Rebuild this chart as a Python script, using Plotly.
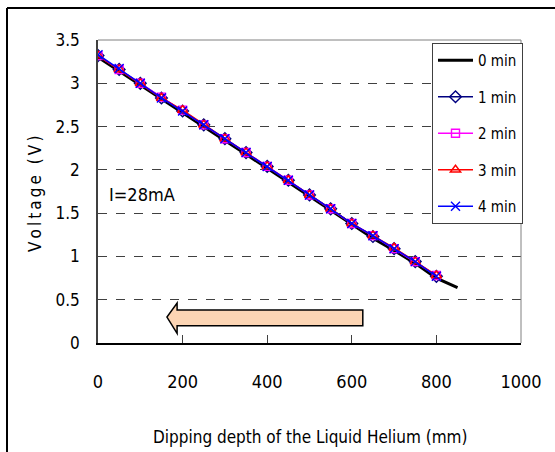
import plotly.graph_objects as go

# Dipping depth (mm) and measured voltage (V) at I = 28 mA
depth = [0, 50, 100, 150, 200, 250, 300, 350, 400, 450, 500, 550, 600, 650, 700, 750, 800]
depth_0min = depth + [850]

v_0min = [3.30, 3.14, 2.98, 2.81, 2.66, 2.50, 2.34, 2.18, 2.02, 1.86, 1.69, 1.53, 1.37, 1.21, 1.07, 0.92, 0.75, 0.64]
v_1min = [3.32, 3.16, 3.00, 2.83, 2.68, 2.52, 2.36, 2.20, 2.04, 1.88, 1.71, 1.55, 1.38, 1.23, 1.09, 0.94, 0.77]
v_2min = [3.32, 3.16, 3.00, 2.84, 2.69, 2.52, 2.36, 2.20, 2.04, 1.88, 1.71, 1.55, 1.38, 1.24, 1.09, 0.94, 0.78]
v_3min = [3.32, 3.16, 3.00, 2.83, 2.69, 2.52, 2.36, 2.20, 2.04, 1.88, 1.71, 1.55, 1.38, 1.24, 1.10, 0.94, 0.78]
v_4min = [3.33, 3.17, 3.00, 2.83, 2.68, 2.52, 2.36, 2.20, 2.04, 1.88, 1.71, 1.55, 1.38, 1.24, 1.09, 0.94, 0.77]

series_names = ["0 min", "1 min", "2 min", "3 min", "4 min"]

x_ticks = [0, 200, 400, 600, 800, 1000]
y_ticks = [0, 0.5, 1, 1.5, 2, 2.5, 3, 3.5]
y_tick_text = ["0", "0.5", "1", "1.5", "2", "2.5", "3", "3.5"]

# Direction arrow (data units)
arrow_tail_x, arrow_neck_x, arrow_tip_x = 626, 187, 163
arrow_body_top, arrow_body_bottom = 0.381, 0.200
arrow_head_top, arrow_head_bottom, arrow_tip_y = 0.462, 0.112, 0.30

FAMILY = "DejaVu Sans Condensed"
THIN = "\u2009"


def cfont(size):
    return dict(family=FAMILY, size=size, color="black")


fig = go.Figure()

fig.add_trace(go.Scatter(
    x=depth_0min, y=v_0min, name=series_names[0], mode="lines",
    line=dict(color="black", width=3), legendgroup="g0"))

styles = [
    (v_1min, "#000080", "diamond-open", 9),
    (v_2min, "#FF00FF", "square-open", 8),
    (v_3min, "#FF0000", "triangle-up-open", 9),
    (v_4min, "#0000FF", "x-thin-open", 9),
]
for i, (vals, col, sym, size) in enumerate(styles, start=1):
    fig.add_trace(go.Scatter(
        x=depth, y=vals, name=series_names[i], mode="lines+markers",
        line=dict(color=col, width=1.5),
        marker=dict(symbol=sym, size=size, color=col,
                    line=dict(color=col, width=1.4)),
        legendgroup=f"g{i}"))

arrow_path = (
    f"M {arrow_tail_x},{arrow_body_top} L {arrow_neck_x},{arrow_body_top} "
    f"L {arrow_neck_x},{arrow_head_top} L {arrow_tip_x},{arrow_tip_y} "
    f"L {arrow_neck_x},{arrow_head_bottom} L {arrow_neck_x},{arrow_body_bottom} "
    f"L {arrow_tail_x},{arrow_body_bottom} Z"
)

W, H = 555, 452
ml, mr, mt, mb = 98, 34, 40, 109
pw, ph = W - ml - mr, H - mt - mb


def px_x(p):
    return (p - ml) / pw


def px_y(p):
    return (H - mb - p) / ph


shapes = [
    dict(type="path", path=arrow_path, xref="x", yref="y",
         fillcolor="#FCD5B4", line=dict(color="black", width=1.5), layer="above"),
    # plot frame: grey top and right edges
    dict(type="line", xref="x domain", yref="y domain", x0=0, x1=1, y0=1, y1=1,
         line=dict(color="#808080", width=1)),
    dict(type="line", xref="x domain", yref="y domain", x0=1, x1=1, y0=0, y1=1,
         line=dict(color="#808080", width=1)),
    # outer frame (top and left)
    dict(type="line", xref="paper", yref="paper", x0=px_x(7), x1=px_x(W + 5),
         y0=px_y(8), y1=px_y(8), line=dict(color="black", width=2)),
    dict(type="line", xref="paper", yref="paper", x0=px_x(7), x1=px_x(7),
         y0=px_y(8), y1=px_y(H + 5), line=dict(color="black", width=2)),
]

y_title = THIN.join("Voltage") + THIN + " " + THIN + THIN.join("(V)")

annotations = [
    dict(text="I=28mA", x=22, y=1.71, xref="x", yref="y", xanchor="left",
         yanchor="middle", showarrow=False, font=cfont(18)),
    dict(text="Dipping depth of the Liquid Helium (mm)", x=px_x(310), y=px_y(437),
         xref="paper", yref="paper", xanchor="center", yanchor="middle",
         showarrow=False, font=cfont(17)),
    dict(text=y_title, x=px_x(35), y=px_y(194),
         xref="paper", yref="paper", xanchor="center", yanchor="middle",
         textangle=-90, showarrow=False, font=cfont(17)),
]

fig.update_layout(
    width=W, height=H,
    margin=dict(l=ml, r=mr, t=mt, b=mb, pad=0),
    paper_bgcolor="white", plot_bgcolor="white",
    showlegend=True,
    legend=dict(x=px_x(432), y=px_y(43), xanchor="left", yanchor="top",
                bgcolor="white", bordercolor="#404040", borderwidth=1,
                font=cfont(15),
                traceorder="grouped", tracegroupgap=14, itemwidth=35),
    shapes=shapes,
    annotations=annotations,
    xaxis=dict(range=[0, 1000], tickvals=x_ticks, ticktext=[str(v) for v in x_ticks],
               showgrid=False, zeroline=False, showline=True,
               linecolor="black", linewidth=1.5,
               ticks="inside", ticklen=8, tickcolor="#404040", tickwidth=1,
               ticklabelstandoff=22, tickfont=cfont(18)),
    yaxis=dict(range=[0, 3.5], tickvals=y_ticks, ticktext=y_tick_text,
               showgrid=True, gridcolor="#404040", gridwidth=1, griddash="dash",
               zeroline=False, showline=True, linecolor="#404040", linewidth=1.5,
               ticks="", ticklabelstandoff=13, tickfont=cfont(17)),
)

fig.write_html("out.html")
